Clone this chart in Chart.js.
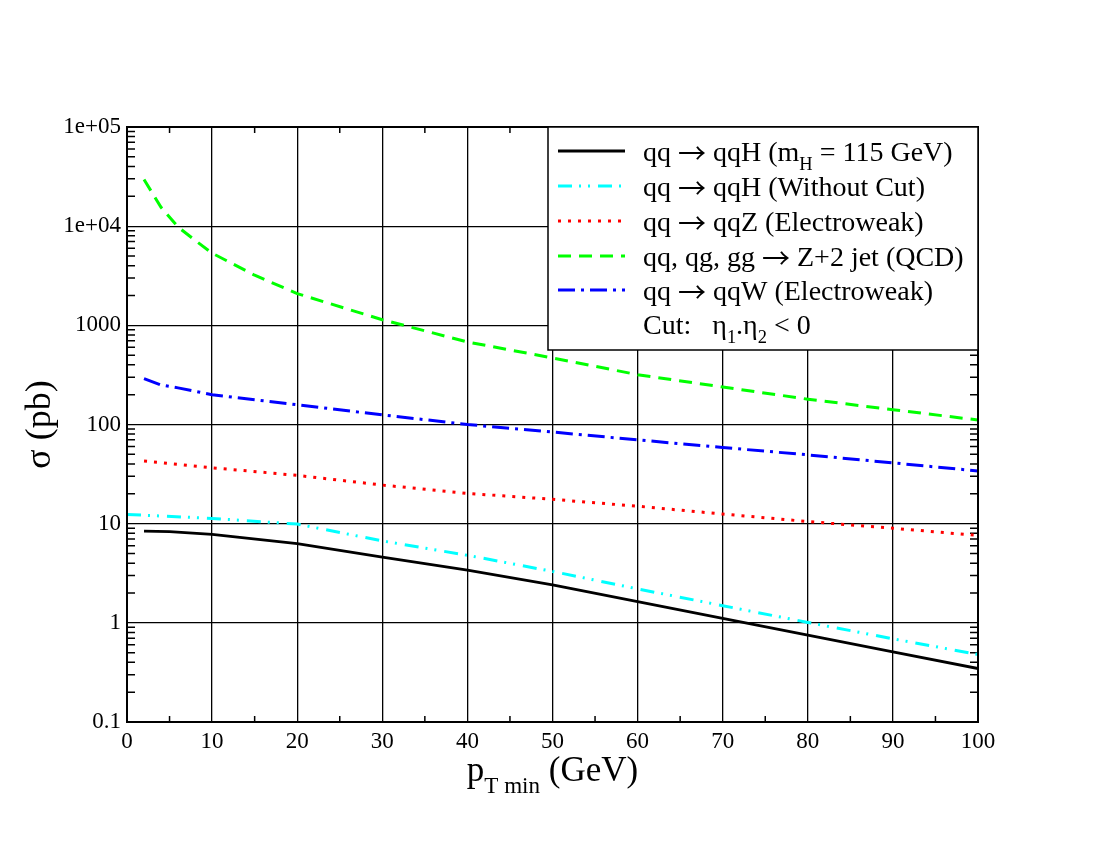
<!DOCTYPE html>
<html>
<head>
<meta charset="utf-8">
<script src="https://cdn.jsdelivr.net/npm/chart.js@4.4.1/dist/chart.umd.min.js"></script>
<style>
  body { margin: 0; background: #fff; }
  #wrap { width: 1100px; height: 850px; }
</style>
</head>
<body>
<div id="wrap"><canvas id="xsecChart" width="1100" height="850"></canvas></div>
<script>
// values (pT min in GeV, sigma in pb)
const ptHiggs = [2, 5, 10, 20, 30, 40, 50, 60, 70, 80, 90, 100];
const sigmaHiggs = [8.4, 8.3, 7.8, 6.3, 4.6, 3.4, 2.42, 1.64, 1.11, 0.75, 0.51, 0.346];

const ptNoCut = [0, 10, 20, 30, 40, 50, 60, 70, 80, 90, 100];
const sigmaNoCut = [12.4, 11.3, 9.9, 6.7, 4.8, 3.3, 2.2, 1.49, 1.01, 0.69, 0.48];

const ptZ = [2, 10, 20, 30, 40, 50, 60, 70, 80, 90, 100];
const sigmaZ = [42.8, 36.6, 30.7, 24.5, 20.2, 17.6, 15, 12.5, 10.5, 9.0, 7.6];

const ptQcd = [2, 4, 6, 8, 10, 15, 20, 30, 40, 50, 60, 70, 80, 90, 100];
const sigmaQcd = [29500, 15500, 9800, 7200, 5340, 3200, 2090, 1140, 680, 469, 318, 239, 180, 141, 111];

const ptW = [2, 4, 6, 10, 20, 30, 40, 50, 60, 70, 80, 90, 100];
const sigmaW = [290, 250, 234, 200, 158, 125, 100, 84, 70, 58.6, 49.4, 41, 34];

const seriesLabels = [
    'qq \u2192 qqH (m_{H} = 115 GeV)',
    'qq \u2192 qqH (Without Cut)',
    'qq \u2192 qqZ (Electroweak)',
    'qq, qg, gg \u2192 Z+2 jet (QCD)',
    'qq \u2192 qqW (Electroweak)'
];
const cutLabel = 'Cut:   \u03b7_{1}.\u03b7_{2} < 0';

const yTickValues = [0.1, 1, 10, 100, 1000, 10000, 100000];
const yTickLabels = ['0.1', '1', '10', '100', '1000', '1e+04', '1e+05'];

const SERIF = '"Liberation Serif", "DejaVu Serif", serif';
const ARROW_FONT = '"Noto Sans CJK JP", "DejaVu Sans", sans-serif';

function toPoints(xs, ys) {
    return xs.map((x, i) => ({ x: x, y: ys[i] }));
}

// split "a_{b}c → d" into pieces: normal text, subscripts, arrows
function richParts(str) {
    return str.split(/(_\{[^}]*\}|\u2192)/).filter(p => p);
}

function setPartFont(ctx, p, size) {
    if (p.startsWith('_{')) {
        ctx.font = (size * 0.66) + 'px ' + SERIF;
        return p.slice(2, -1);
    }
    if (p === '\u2192') {
        ctx.font = size + 'px ' + ARROW_FONT;
        return p;
    }
    ctx.font = size + 'px ' + SERIF;
    return p;
}

function richWidth(ctx, str, size) {
    let w = 0;
    richParts(str).forEach(p => {
        const t = setPartFont(ctx, p, size);
        w += ctx.measureText(t).width;
    });
    return w;
}

function drawRich(ctx, str, x, y, size) {
    richParts(str).forEach(p => {
        const t = setPartFont(ctx, p, size);
        let dy = 0;
        if (p.startsWith('_{')) dy = size * 0.33;
        if (p === '\u2192') dy = size * 0.1;
        ctx.fillText(t, x, y + dy);
        x += ctx.measureText(t).width;
    });
}

// inner minor ticks, box frame, legend and axis titles
const decorPlugin = {
    id: 'decor',
    beforeDatasetsDraw(chart) {
        const { ctx, chartArea: a, scales } = chart;
        ctx.save();
        ctx.strokeStyle = '#000';
        ctx.lineWidth = 1.5;
        ctx.beginPath();
        for (let v = 5; v < 100; v += 10) {
            const px = scales.x.getPixelForValue(v);
            ctx.moveTo(px, a.bottom); ctx.lineTo(px, a.bottom - 6);
            ctx.moveTo(px, a.top); ctx.lineTo(px, a.top + 6);
        }
        for (let d = -1; d < 5; d++) {
            for (let m = 2; m <= 9; m++) {
                const py = scales.y.getPixelForValue(m * Math.pow(10, d));
                ctx.moveTo(a.left, py); ctx.lineTo(a.left + 8, py);
                ctx.moveTo(a.right, py); ctx.lineTo(a.right - 8, py);
            }
        }
        ctx.stroke();
        ctx.restore();
    },
    afterDraw(chart) {
        const { ctx, chartArea: a } = chart;
        ctx.save();
        ctx.strokeStyle = '#000';
        ctx.lineWidth = 2;
        ctx.strokeRect(a.left, a.top, a.right - a.left, a.bottom - a.top);

        // legend box
        const bx = 548, by = a.top, bw = a.right - 548, bh = 223;
        ctx.fillStyle = '#fff';
        ctx.fillRect(bx, by, bw, bh);
        ctx.lineWidth = 1.5;
        ctx.strokeRect(bx, by, bw, bh);

        ctx.fillStyle = '#000';
        ctx.textBaseline = 'alphabetic';
        ctx.textAlign = 'left';
        const rowY = [151, 186, 221, 256, 290];
        chart.data.datasets.forEach((ds, i) => {
            ctx.strokeStyle = ds.borderColor;
            ctx.lineWidth = ds.borderWidth;
            ctx.setLineDash(ds.borderDash || []);
            ctx.beginPath();
            ctx.moveTo(558, rowY[i]);
            ctx.lineTo(625, rowY[i]);
            ctx.stroke();
            ctx.setLineDash([]);
            drawRich(ctx, ds.label, 643, rowY[i] + 10, 28);
        });
        drawRich(ctx, cutLabel, 643, 334, 28);

        // x axis title
        const xt = 'p_{T min} (GeV)';
        const w = richWidth(ctx, xt, 35);
        drawRich(ctx, xt, (a.left + a.right) / 2 - w / 2, 781, 35);

        // y axis title
        ctx.translate(50, (a.top + a.bottom) / 2);
        ctx.rotate(-Math.PI / 2);
        ctx.textAlign = 'center';
        ctx.font = '36px ' + SERIF;
        ctx.fillText('\u03c3 (pb)', 0, 0);
        ctx.restore();
    }
};

function initChart() {
    const ctx = document.getElementById('xsecChart').getContext('2d');
    const tickFont = { family: SERIF, size: 23 };
    new Chart(ctx, {
        type: 'line',
        data: {
            datasets: [
                {
                    label: seriesLabels[0],
                    data: toPoints(ptHiggs, sigmaHiggs),
                    borderColor: '#000000',
                    borderWidth: 2.8
                },
                {
                    label: seriesLabels[1],
                    data: toPoints(ptNoCut, sigmaNoCut),
                    borderColor: '#00ffff',
                    borderWidth: 3,
                    borderDash: [14, 7, 2, 7, 2, 8]
                },
                {
                    label: seriesLabels[2],
                    data: toPoints(ptZ, sigmaZ),
                    borderColor: '#ff0000',
                    borderWidth: 3,
                    borderDash: [3, 7]
                },
                {
                    label: seriesLabels[3],
                    data: toPoints(ptQcd, sigmaQcd),
                    borderColor: '#00ff00',
                    borderWidth: 3,
                    borderDash: [13, 8]
                },
                {
                    label: seriesLabels[4],
                    data: toPoints(ptW, sigmaW),
                    borderColor: '#0000ff',
                    borderWidth: 3,
                    borderDash: [17, 6, 3, 6]
                }
            ]
        },
        options: {
            responsive: false,
            animation: false,
            elements: {
                point: { radius: 0 },
                line: { tension: 0, fill: false }
            },
            layout: { padding: { top: 127, right: 122, left: 0, bottom: 0 } },
            plugins: {
                legend: { display: false },
                tooltip: { enabled: false }
            },
            scales: {
                x: {
                    type: 'linear',
                    min: 0,
                    max: 100,
                    ticks: { stepSize: 10, font: tickFont, color: '#000', padding: 6, maxRotation: 0 },
                    grid: { color: '#000', lineWidth: 1.3, drawTicks: false },
                    border: { display: true, color: '#000', width: 2 },
                    afterFit: (s) => { s.height = 128; }
                },
                y: {
                    type: 'logarithmic',
                    min: 0.1,
                    max: 100000,
                    afterBuildTicks: (s) => { s.ticks = yTickValues.map(v => ({ value: v, major: true })); },
                    ticks: {
                        font: tickFont,
                        color: '#000',
                        padding: 6,
                        callback: (value) => {
                            const i = yTickValues.findIndex(v => Math.abs(v - value) / v < 1e-6);
                            return i >= 0 ? yTickLabels[i] : '';
                        }
                    },
                    grid: { color: '#000', lineWidth: 1.3, drawTicks: false },
                    border: { display: true, color: '#000', width: 2 },
                    afterFit: (s) => { s.width = 127; }
                }
            }
        },
        plugins: [decorPlugin]
    });
}

document.addEventListener('DOMContentLoaded', initChart);
</script>
</body>
</html>
